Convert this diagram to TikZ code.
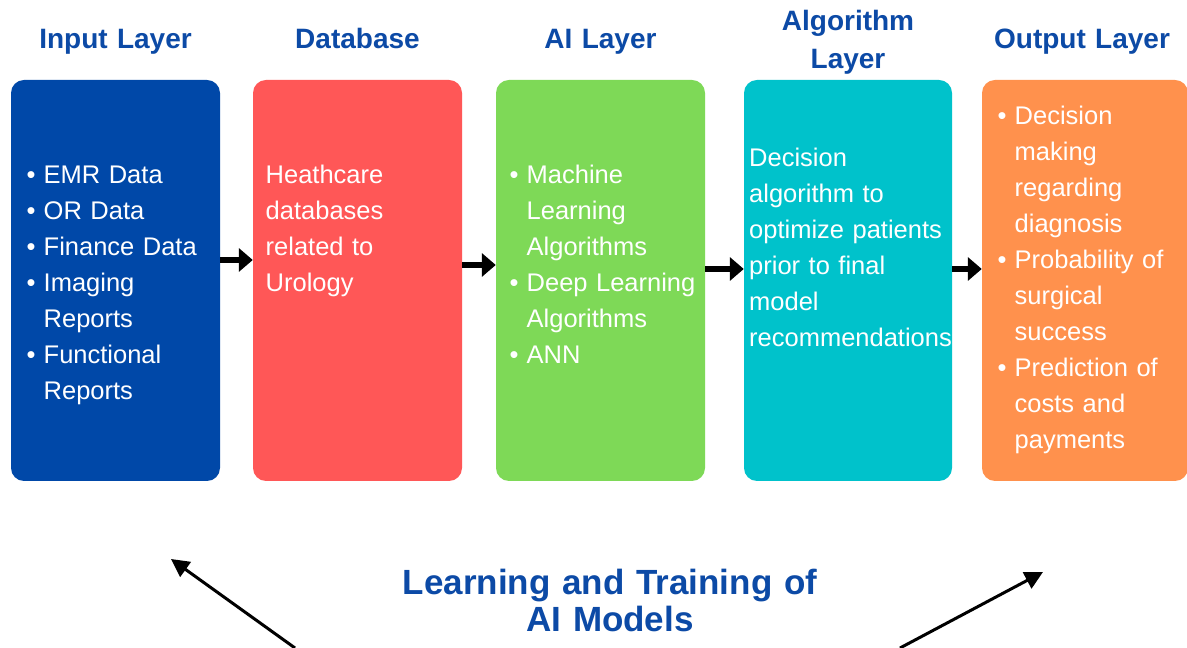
\documentclass[tikz,border=0pt]{standalone}
\usepackage{fontspec}
\setmainfont{Liberation Sans}
\usepackage{xcolor}
\usepackage{tikz}
\usetikzlibrary{arrows.meta}
\usetikzlibrary{positioning}
\definecolor{inblue}{RGB}{0,72,168}
\definecolor{dbred}{RGB}{255,87,87}
\definecolor{aigreen}{RGB}{126,217,87}
\definecolor{algocyan}{RGB}{0,194,203}
\definecolor{outorange}{RGB}{255,145,77}
\definecolor{headblue}{RGB}{12,74,166}
\tikzset{
 lyrbox/.style={fill=#1, rounded corners=13pt, minimum height=401pt, inner sep=0pt},
 lyrhead/.style={text=headblue, font=\fontsize{28}{38}\selectfont\bfseries, text width=240pt, align=center, anchor=base, inner sep=0pt},
 lyrtext/.style={text=white, font=\fontsize{25.5}{36}\selectfont, text width=210pt, align=left, anchor=base west, inner sep=0pt},
 flow/.style={line width=6pt, -{Triangle[length=14pt,width=23pt]}},
 backarrow/.style={line width=3pt, -{Triangle[length=18pt,width=18pt]}}
}
\newcommand{\bul}{\makebox[17pt][l]{\textbullet}}
\newcommand{\ind}{\hspace*{17pt}}

\begin{document}
\begin{tikzpicture}[x=1pt,y=1pt]
\useasboundingbox (0,0) rectangle (1187,648);
\fill[white] (0,0) rectangle (1187,648);
\foreach \nm/\cx/\bw/\col in {input/115.5/209/inblue, db/357.5/209/dbred, ai/600.5/209/aigreen, algo/848/208/algocyan, out/1085/206/outorange}
 \node[lyrbox=\col, minimum width=\bw pt] (\nm) at (\cx,367.5) {};
\foreach \a/\b/\dy in {input/db/20.5, db/ai/15.5, ai/algo/11.5, algo/out/11.5}
 \draw[flow] ([yshift=\dy pt]\a.east) -- ([yshift=\dy pt]\b.west);

\node[lyrhead] (inputhead) at (input |- 0,599) {Input Layer};
\node[lyrhead] (dbhead) at (db |- 0,599) {Database};
\node[lyrhead] (aihead) at (ai |- 0,599) {AI Layer};
\node[lyrhead] (algohead) at (algo |- 0,617) {Algorithm\\Layer};
\node[lyrhead] (outhead) at (1082,599) {Output Layer};

\node[lyrtext] (inputtxt) at (26.5,464) {\bul EMR Data\\\bul OR Data\\\bul Finance Data\\\bul Imaging\\\ind Reports\\\bul Functional\\\ind Reports};
\node[lyrtext] (dbtxt) at (265.5,464) {Heathcare\\databases\\related to\\Urology};
\node[lyrtext] (aitxt) at (509.5,464) {\bul Machine\\\ind Learning\\\ind Algorithms\\\bul Deep Learning\\\ind Algorithms\\\bul ANN};
\node[lyrtext] (algotxt) at (749,481) {Decision\\algorithm to\\optimize patients\\prior to final\\model\\recommendations};
\node[lyrtext] (outtxt) at (997.5,523) {\bul Decision\\\ind making\\\ind regarding\\\ind diagnosis\\\bul Probability of\\\ind surgical\\\ind success\\\bul Prediction of\\\ind costs and\\\ind payments};

\node[lyrhead, font=\fontsize{35}{37}\selectfont\bfseries, text width=500pt] (train) at (610,53) {Learning and Training of\\AI Models};
\coordinate (lstart) at (295,0);
\coordinate (ltip) at (171,89);
\coordinate (rstart) at (900,0);
\coordinate (rtip) at (1043,76);
\draw[backarrow] (lstart) -- (ltip);
\draw[backarrow] (rstart) -- (rtip);
\end{tikzpicture}
\end{document}
